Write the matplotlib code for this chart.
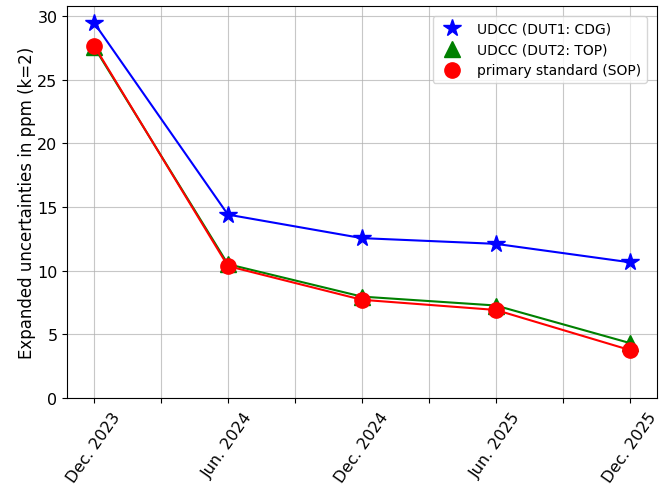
import numpy as np
import matplotlib
matplotlib.use("Agg")
import matplotlib.pyplot as plt

# measurement campaigns
dates = ["Dec. 2023", "Jun. 2024", "Dec. 2024", "Jun. 2025", "Dec. 2025"]
# expanded uncertainties in ppm (k=2)
dut1_cdg = [29.5, 14.4, 12.55, 12.1, 10.65]
dut2_top = [27.6, 10.5, 7.95, 7.25, 4.3]
sop = [27.7, 10.35, 7.7, 6.9, 3.75]

x = np.arange(len(dates))

fig, ax = plt.subplots(figsize=(6.72, 4.85), dpi=100)
fig.subplots_adjust(left=0.100, right=0.977, top=0.985, bottom=0.178)

series = [(dut1_cdg, "b", "*", 13, "UDCC (DUT1: CDG)"),
          (dut2_top, "g", "^", 12, "UDCC (DUT2: TOP)"),
          (sop, "r", "o", 11, "primary standard (SOP)")]
for vals, col, mk, ms, lab in series:
    ax.plot(x, vals, color=col, linewidth=1.5)
    ax.plot(x, vals, color=col, marker=mk, markersize=ms, linestyle="none", label=lab)

ax.set_ylim(bottom=0)
ax.set_xticks(np.arange(0, len(dates) - 0.9, 0.5))
labels = []
for i in range(2 * len(dates) - 1):
    labels.append(dates[i // 2] if i % 2 == 0 else "")
ax.set_xticklabels(labels, rotation=55, fontsize=11.5)
ax.tick_params(axis="y", labelsize=11.5)
ax.tick_params(axis="x", pad=5)
ax.set_ylabel("Expanded uncertainties in ppm (k=2)", fontsize=12, labelpad=1)
ax.grid(True, color="#b0b0b0", linewidth=0.8, alpha=0.7)
ax.set_axisbelow(True)
ax.legend(loc="upper right", fontsize=10, borderaxespad=0.7)

fig.savefig("out.png", dpi=100)
